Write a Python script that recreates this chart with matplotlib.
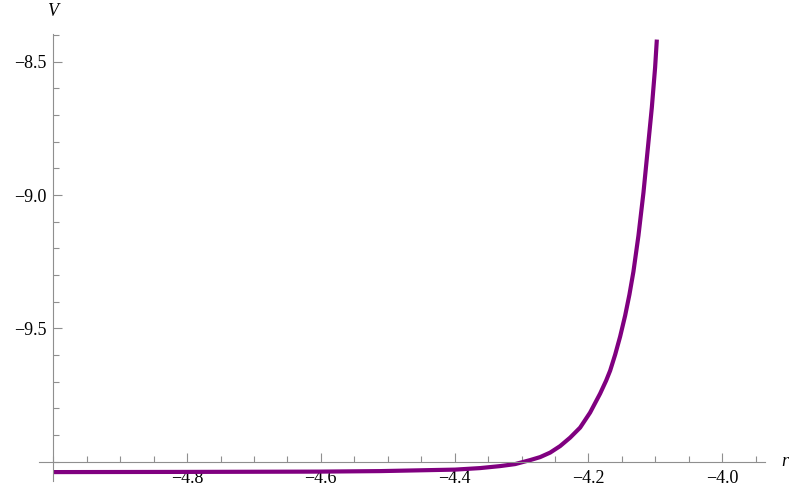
import matplotlib.pyplot as plt
from matplotlib.ticker import MultipleLocator, FuncFormatter

# --------------------------
# Data
# --------------------------
r = [-5.0, -4.8, -4.6, -4.5115, -4.3993, -4.362, -4.332, -4.3096, -4.2871, -4.2722,
     -4.2572, -4.2423, -4.2273, -4.2124, -4.1975, -4.1825, -4.1735, -4.1675, -4.16,
     -4.1526, -4.1451, -4.1387, -4.1327, -4.1252, -4.1177, -4.1118, -4.1052,
     -4.1003, -4.0977]
V = [-10.0386, -10.0379, -10.0368, -10.0349, -10.0293, -10.0236, -10.0161, -10.0086,
     -9.9936, -9.9824, -9.9655, -9.9411, -9.9093, -9.8718, -9.8155, -9.7443,
     -9.6956, -9.6581, -9.5981, -9.5306, -9.4519, -9.3731, -9.2869, -9.1519,
     -8.9906, -8.8406, -8.6719, -8.5219, -8.4169]

x_major = [-4.8, -4.6, -4.4, -4.2, -4.0]
y_major = [-9.5, -9.0, -8.5]

# --------------------------
# Plot
# --------------------------
plt.rcParams['font.family'] = ['Liberation Serif', 'DejaVu Serif']
axis_grey = '#8f8f8f'

fig = plt.figure(figsize=(7.9, 4.88), dpi=100)
ax = fig.add_axes([39 / 790, 7 / 488, (765 - 39) / 790, (481 - 34) / 488])

ax.plot(r, V, color='#800080', lw=3, solid_capstyle='butt', solid_joinstyle='round')

ax.set_xlim(-5.0214, -3.936)
ax.set_ylim(-10.072, -8.396)

for side in ['top', 'right']:
    ax.spines[side].set_visible(False)
ax.spines['left'].set_position(('data', -5.0))
ax.spines['bottom'].set_position(('data', -10.0))
for side in ['left', 'bottom']:
    ax.spines[side].set_color(axis_grey)
    ax.spines[side].set_linewidth(0.8)

ax.set_xticks(x_major)
ax.set_yticks(y_major)
ax.xaxis.set_minor_locator(MultipleLocator(0.05))
ax.yaxis.set_minor_locator(MultipleLocator(0.1))
fmt = FuncFormatter(lambda v, p: f"{v:.1f}".replace('-', '\u2212'))
ax.xaxis.set_major_formatter(fmt)
ax.yaxis.set_major_formatter(fmt)

ax.tick_params(which='both', direction='in', color=axis_grey, width=0.8,
               labelsize=13, labelcolor='black')
ax.tick_params(which='major', length=6.5)
ax.tick_params(which='minor', length=4)
ax.tick_params(axis='x', which='major', pad=6)
ax.tick_params(axis='y', which='major', pad=5)

# axis labels at the ends of the axes
fig.text(53 / 790, (488 - 11) / 488, 'V', fontsize=13, style='italic',
         ha='center', va='center')
fig.text(785 / 790, (488 - 462) / 488, 'r', fontsize=13, style='italic',
         ha='center', va='center')

plt.savefig('out.png', dpi=100)
